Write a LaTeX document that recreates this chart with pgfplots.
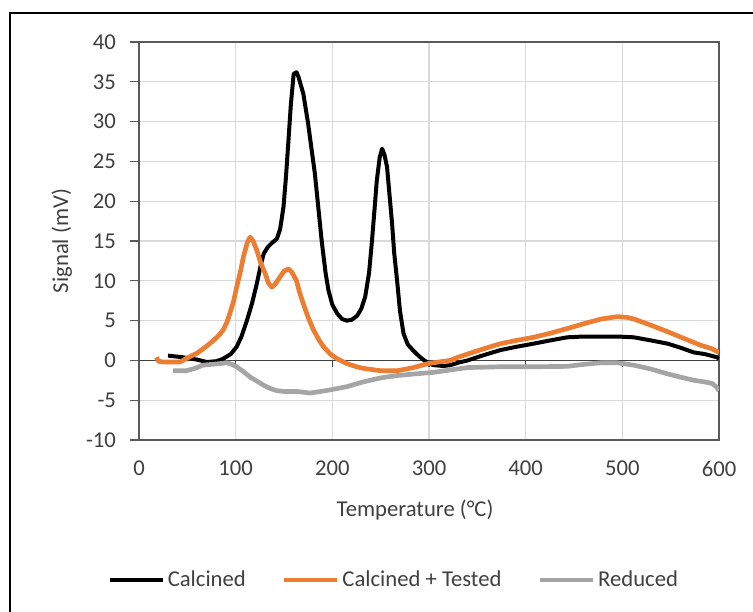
\documentclass[border=0pt]{standalone}
\usepackage{pgfplots}
\pgfplotsset{compat=1.18}
\usepackage{fontspec}
\setmainfont{Carlito}
\definecolor{cOrange}{HTML}{ED7D31}
\definecolor{cGray}{HTML}{A5A5A5}
\definecolor{cGrid}{HTML}{D9D9D9}
\definecolor{cAxis}{HTML}{595959}
\definecolor{cText}{HTML}{404040}
\begin{document}
\begin{tikzpicture}
\useasboundingbox (0pt,0pt) rectangle (564.75pt,458.25pt);
\fill[white] (0pt,0pt) rectangle (564.75pt,458.25pt);
\draw[line width=2pt,black] (7.5pt,-20pt) -- (7.5pt,448.5pt) -- (590pt,448.5pt);
\begin{axis}[
  at={(104.25pt,128.25pt)}, anchor=south west,
  scale only axis, width=435pt, height=298.5pt,
  xmin=0, xmax=600, ymin=-10, ymax=40,
  xtick={0,100,...,600}, ytick={-10,-5,...,40},
  grid=major, major grid style={cGrid, line width=0.8pt},
  axis line style={cAxis, line width=1pt},
  xtick style={draw=none},
  ytick style={cAxis, line width=1pt},
  ytick align=outside, major tick length=6.75pt,
  ytick pos=left,
  /pgf/number format/assume math mode=true,
  tick label style={font=\fontsize{17}{20}\selectfont, text=cText},
  yticklabel style={xshift=-7pt},
  xticklabel style={yshift=-12pt},
  xlabel={Temperature (°C)}, ylabel={Signal (mV)},
  label style={font=\fontsize{17}{20}\selectfont, text=cText},
  xlabel style={at={(0.476,-0.176)}, anchor=center},
  ylabel style={at={(-0.133,0.5)}, anchor=center},
  legend columns=3,
  legend style={at={(0.44,-0.352)}, anchor=center, draw=none, fill=none,
    font=\fontsize{17}{20}\selectfont, text=cText, inner sep=0pt,
    /tikz/every even column/.append style={column sep=25pt}},
  legend cell align=left,
  legend image code/.code={\draw[#1] (0pt,0pt) -- (40pt,0pt);},
]
\draw[cText, line width=1pt] (axis cs:0,0) -- (axis cs:600,0);
\pgfplotsinvokeforeach{100,200,300,400,500}{
  \draw[cText, line width=1pt] (axis cs:#1,0) -- ++(0pt,-5pt);
}
\addplot[black, line width=3pt, line join=round] coordinates {
(30,0.6)(45,0.4)(60,0.1)(70,-0.2)(80,-0.1)(87,0.2)(95,0.8)(101,1.7)(106,3.0)(111.6,5)(117,7.2)(122,9.7)(126,12)(129,13.4)(133,14.2)(137,14.7)(142.7,15.3)(146,16.5)(149.5,19.3)(152,23)(154.6,27.6)(157,32)(160,36)(163,36.2)(165,35.6)(170,33.5)(175,29.7)(182,23.4)(189,15)(193,11)(196,8.8)(200,7)(205,5.9)(210,5.2)(215,5)(220,5.1)(225.6,5.6)(230,6.5)(234,8)(238,11)(241,15)(244,19.5)(246,22.6)(249,25.5)(251.5,26.6)(254,25.8)(256.6,24.3)(259,21)(261.8,17.2)(264,13.5)(267,10)(270,6.2)(273.6,3.4)(278,2)(284,1.2)(290,0.5)(294,0.1)(300,-0.4)(305,-0.6)(315,-0.7)(322,-0.6)(330,-0.3)(340,0)(355,0.6)(374,1.3)(390,1.7)(408,2.1)(425,2.5)(443,2.9)(460,3.0)(478,3.0)(495,3.0)(512,2.9)(530,2.5)(547,2.1)(560,1.6)(574,1.0)(585,0.8)(598,0.4)(600,0.2)
};
\addlegendentry{Calcined}
\addplot[cOrange, line width=3.5pt, line join=round] coordinates {
(18,0.4)(20,-0.1)(25,-0.2)(35,-0.2)(42.5,-0.2)(50,0.3)(60,0.9)(70,1.8)(77,2.5)(83,3.2)(87,3.8)(91,4.8)(94,5.9)(98,7.5)(101,9.2)(105,11.2)(108,13)(112,14.8)(115,15.5)(118,15)(122,13.8)(126,12.2)(130.6,10.9)(134,9.7)(137.5,9.2)(141,9.6)(146,10.5)(150,11.2)(154.6,11.5)(158,11.1)(163,10)(166,8.6)(170,7.1)(175,5.4)(180.6,3.8)(186,2.6)(191,1.7)(198,0.8)(205,0.2)(215,-0.4)(225,-0.8)(232,-1.0)(250,-1.3)(267,-1.3)(284,-0.9)(299,-0.4)(310,-0.2)(322,0)(330,0.4)(340,0.8)(355,1.4)(374,2.1)(390,2.5)(408,2.9)(425,3.4)(443,4)(460,4.6)(478,5.2)(495,5.5)(505,5.4)(512,5.2)(530,4.4)(547,3.6)(565,2.7)(581,1.9)(592,1.5)(600,1.0)
};
\addlegendentry{Calcined + Tested}
\addplot[cGray, line width=3.5pt, line join=round] coordinates {
(35,-1.3)(49,-1.3)(58,-1.0)(66,-0.6)(75,-0.5)(84,-0.4)(91,-0.3)(96,-0.5)(101,-0.8)(108,-1.4)(115,-2.1)(122,-2.6)(128.7,-3.1)(135,-3.5)(142.7,-3.8)(150,-3.9)(163,-3.9)(170,-4.0)(177,-4.1)(188,-3.9)(198,-3.7)(215,-3.3)(232,-2.7)(250,-2.2)(267,-1.9)(285,-1.7)(305,-1.5)(322,-1.2)(340,-0.9)(374,-0.8)(408,-0.8)(443,-0.75)(460,-0.5)(478,-0.3)(495,-0.3)(512,-0.6)(530,-1.1)(547,-1.7)(560,-2.1)(574,-2.5)(585,-2.7)(593,-2.9)(597,-3.3)(600,-3.8)
};
\addlegendentry{Reduced}
\end{axis}
\end{tikzpicture}
\end{document}
